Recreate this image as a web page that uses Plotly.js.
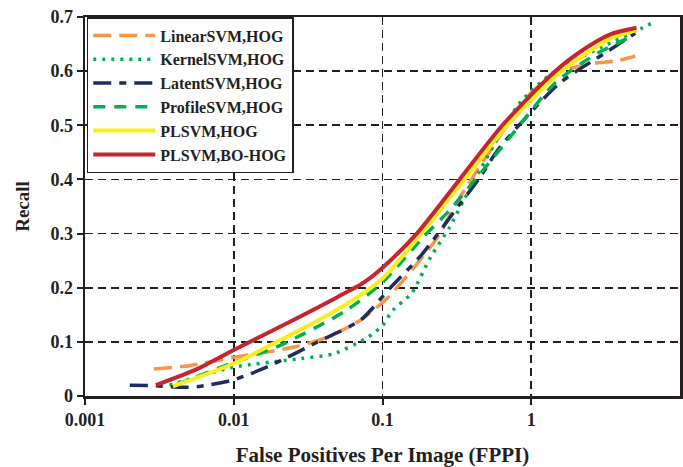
<!DOCTYPE html>
<html>
<head>
<meta charset="utf-8">
<script src="https://cdn.plot.ly/plotly-3.0.1.min.js"></script>
<style>html,body{margin:0;padding:0;background:#fff;}#chart{width:683px;height:467px;}</style>
</head>
<body>
<div id="chart"></div>
<script>
// FPPI (x) and Recall (y) values
const linearX = [0.0029, 0.005, 0.0099, 0.025, 0.042, 0.071, 0.107, 0.23, 0.33, 0.72, 1.02, 1.6, 2.75, 3.9, 5.0];
const linearY = [0.05, 0.056, 0.071, 0.09, 0.108, 0.14, 0.18, 0.29, 0.366, 0.508, 0.563, 0.6, 0.615, 0.62, 0.628];

const kernelX = [0.0037, 0.0099, 0.028, 0.047, 0.079, 0.1, 0.117, 0.157, 0.21, 0.28, 0.38, 0.45, 0.83, 1.4, 3.0, 5.6, 6.6];
const kernelY = [0.02, 0.053, 0.069, 0.078, 0.108, 0.13, 0.158, 0.19, 0.256, 0.31, 0.379, 0.416, 0.54, 0.597, 0.645, 0.68, 0.69];

const latentX = [0.002, 0.003, 0.0045, 0.006, 0.01, 0.0175, 0.038, 0.071, 0.113, 0.186, 0.33, 0.45, 0.61, 1.54, 3.2, 5.0];
const latentY = [0.02, 0.019, 0.016, 0.018, 0.03, 0.056, 0.102, 0.14, 0.2, 0.263, 0.354, 0.403, 0.458, 0.577, 0.635, 0.67];

const profileX = [0.0042, 0.01, 0.02, 0.057, 0.1, 0.186, 0.28, 0.43, 0.75, 1.47, 2.75, 4.8];
const profileY = [0.022, 0.062, 0.092, 0.158, 0.21, 0.292, 0.342, 0.403, 0.484, 0.58, 0.632, 0.665];

const plsvmX = [0.0039, 0.01, 0.0195, 0.04, 0.07, 0.1, 0.183, 0.356, 0.69, 1.6, 3.4, 5.1];
const plsvmY = [0.018, 0.06, 0.1, 0.145, 0.185, 0.217, 0.3, 0.4, 0.5, 0.6, 0.66, 0.676];

const boX = [0.003, 0.0057, 0.01, 0.025, 0.05, 0.075, 0.1, 0.17, 0.33, 0.64, 1.45, 2.4, 3.4, 5.1];
const boY = [0.02, 0.05, 0.085, 0.14, 0.183, 0.21, 0.237, 0.3, 0.4, 0.5, 0.6, 0.645, 0.668, 0.68];

const seriesNames = ['LinearSVM,HOG', 'KernelSVM,HOG', 'LatentSVM,HOG', 'ProfileSVM,HOG', 'PLSVM,HOG', 'PLSVM,BO-HOG'];
const xTickVals = [0.001, 0.01, 0.1, 1];
const xTickText = ['0.001', '0.01', '0.1', '1'];
const yTickVals = [0, 0.1, 0.2, 0.3, 0.4, 0.5, 0.6, 0.7];

const serif = 'Liberation Serif, Times New Roman, serif';
const ink = '#231f20';

function tr(x, y, name, color, dash, width) {
  return {x: x, y: y, name: name, type: 'scatter', mode: 'lines',
    line: {color: color, dash: dash, width: width, shape: 'spline', smoothing: 0.7}};
}

const data = [
  tr(linearX, linearY, seriesNames[0], '#f79646', '18px,8px', 3.5),
  tr(kernelX, kernelY, seriesNames[1], '#00b050', '3px,6px', 3.5),
  tr(latentX, latentY, seriesNames[2], '#1f2d5e', '18px,8px,7px,8px', 3.5),
  tr(profileX, profileY, seriesNames[3], '#00b050', '12px,9px', 3.5),
  tr(plsvmX, plsvmY, seriesNames[4], '#f8ee1c', 'solid', 4),
  tr(boX, boY, seriesNames[5], '#c4262e', 'solid', 4)
];

const layout = {
  width: 683, height: 467,
  margin: {l: 85, r: 3, t: 17, b: 71},
  paper_bgcolor: '#fff', plot_bgcolor: '#fff',
  font: {family: serif, color: ink, size: 18, weight: 'bold'},
  showlegend: true,
  legend: {x: 0.003, y: 1, xanchor: 'left', yanchor: 'top', bgcolor: '#fff',
    bordercolor: ink, borderwidth: 1.5, font: {family: serif, size: 16, weight: 'bold', color: ink},
    tracegroupgap: 0, itemwidth: 62},
  xaxis: {type: 'log', range: [-3, 1], tickvals: xTickVals, ticktext: xTickText,
    showgrid: true, gridcolor: ink, griddash: '8px,5px', gridwidth: 1.8,
    showline: true, linecolor: ink, linewidth: 2.5, mirror: true,
    ticks: 'outside', ticklen: 6, tickwidth: 2, tickcolor: ink,
    zeroline: false, automargin: false,
    tickfont: {family: serif, size: 18, weight: 'bold', color: ink},
    title: {text: 'False Positives Per Image (FPPI)', font: {family: serif, size: 21, weight: 'bold', color: ink}, standoff: 22}},
  yaxis: {range: [0, 0.7], tickvals: yTickVals,
    showgrid: true, gridcolor: ink, griddash: '8px,5px', gridwidth: 1.8,
    showline: true, linecolor: ink, linewidth: 2.5, mirror: true,
    ticks: 'outside', ticklen: 6, tickwidth: 2, tickcolor: ink,
    zeroline: false, automargin: false,
    tickfont: {family: serif, size: 18, weight: 'bold', color: ink},
    title: {text: 'Recall', font: {family: serif, size: 19, weight: 'bold', color: ink}, standoff: 16}}
};

Plotly.newPlot('chart', data, layout, {displayModeBar: false, staticPlot: true});
</script>
</body>
</html>
